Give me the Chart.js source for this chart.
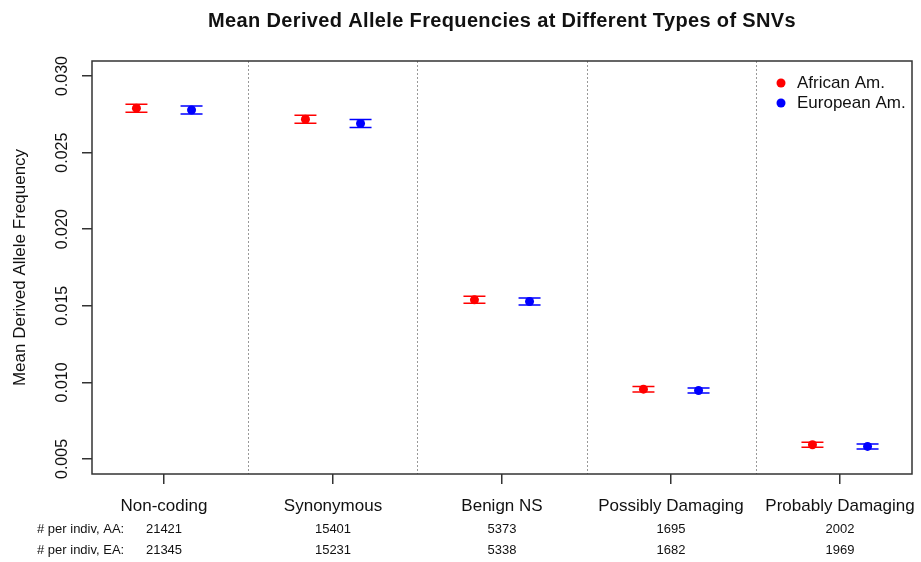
<!DOCTYPE html>
<html>
<head>
<meta charset="utf-8">
<script src="https://cdn.jsdelivr.net/npm/chart.js@4/dist/chart.umd.min.js"></script>
<style>
  html, body { margin: 0; padding: 0; background: #fff; }
  #wrap { width: 921px; height: 562px; }
</style>
</head>
<body>
<div id="wrap"><canvas id="myChart" width="921" height="562"></canvas></div>
<script>
// data
var categories = ["Non-coding", "Synonymous", "Benign NS", "Possibly Damaging", "Probably Damaging"];
var aaMean = [0.02790, 0.02718, 0.01539, 0.00956, 0.00593];
var eaMean = [0.02778, 0.02690, 0.01528, 0.00947, 0.00582];
var aaErr = [0.00026, 0.00026, 0.00023, 0.00018, 0.00016];
var eaErr = [0.00026, 0.00026, 0.00023, 0.00017, 0.00016];
var aaCount = [21421, 15401, 5373, 1695, 2002];
var eaCount = [21345, 15231, 5338, 1682, 1969];
var yTicks = [0.005, 0.010, 0.015, 0.020, 0.025, 0.030];
var seriesNames = ["African Am.", "European Am."];
var seriesColors = ["#ff0000", "#0000ff"];

var FONT = "'Liberation Sans', Arial, Helvetica, sans-serif";
var SHIFT = 0.163; // offset of each group from the category centre

function pts(vals, dx) {
  return vals.map(function (v, i) { return { x: i + dx, y: v }; });
}

var errs = [aaErr, eaErr];

var extras = {
  id: "extras",
  beforeDatasetsDraw: function (chart) {
    var ctx = chart.ctx, xs = chart.scales.x, ys = chart.scales.y, a = chart.chartArea;
    ctx.save();
    // dotted separators
    ctx.strokeStyle = "#999";
    ctx.lineWidth = 1;
    ctx.setLineDash([2, 2]);
    for (var i = 0; i < categories.length - 1; i++) {
      var px = Math.round(xs.getPixelForValue(i + 0.5)) + 0.5;
      ctx.beginPath();
      ctx.moveTo(px, a.top);
      ctx.lineTo(px, a.bottom);
      ctx.stroke();
    }
    ctx.setLineDash([]);
    // error bars
    chart.data.datasets.forEach(function (ds, d) {
      ctx.strokeStyle = ds.backgroundColor;
      ctx.lineWidth = 1.5;
      ds.data.forEach(function (p, i) {
        var x = xs.getPixelForValue(p.x);
        var y1 = ys.getPixelForValue(p.y + errs[d][i]);
        var y2 = ys.getPixelForValue(p.y - errs[d][i]);
        ctx.beginPath();
        ctx.moveTo(x, y1); ctx.lineTo(x, y2);
        ctx.moveTo(x - 11, y1); ctx.lineTo(x + 11, y1);
        ctx.moveTo(x - 11, y2); ctx.lineTo(x + 11, y2);
        ctx.stroke();
      });
    });
    ctx.restore();
  },
  afterDraw: function (chart) {
    var ctx = chart.ctx, xs = chart.scales.x, ys = chart.scales.y, a = chart.chartArea;
    ctx.save();
    // box
    ctx.strokeStyle = "#333";
    ctx.lineWidth = 1.5;
    ctx.strokeRect(a.left, a.top, a.right - a.left, a.bottom - a.top);
    // title
    ctx.fillStyle = "#111";
    ctx.font = "bold 20px " + FONT;
    ctx.letterSpacing = "0.35px";
    ctx.textAlign = "center";
    ctx.textBaseline = "alphabetic";
    ctx.fillText("Mean Derived Allele Frequencies at Different Types of SNVs", (a.left + a.right) / 2, 27);
    ctx.letterSpacing = "0px";
    ctx.textBaseline = "middle";
    // rotated y tick labels
    ctx.font = "16px " + FONT;
    ys.ticks.forEach(function (t) {
      var py = ys.getPixelForValue(t.value);
      ctx.save();
      ctx.translate(63, py);
      ctx.rotate(-Math.PI / 2);
      ctx.fillText(t.value.toFixed(3), 0, 0);
      ctx.restore();
    });
    // counts under categories
    ctx.font = "13px " + FONT;
    ctx.textAlign = "left";
    ctx.fillText("# per indiv, AA:", 37, 529);
    ctx.fillText("# per indiv, EA:", 37, 550);
    ctx.textAlign = "center";
    categories.forEach(function (c, i) {
      var px = xs.getPixelForValue(i);
      ctx.fillText(String(aaCount[i]), px, 529);
      ctx.fillText(String(eaCount[i]), px, 550);
    });
    // legend
    ctx.font = "17px " + FONT;
    ctx.textAlign = "left";
    seriesNames.forEach(function (n, k) {
      var ly = 83 + k * 20;
      ctx.fillStyle = seriesColors[k];
      ctx.beginPath();
      ctx.arc(781, ly, 4.5, 0, Math.PI * 2);
      ctx.fill();
      ctx.fillStyle = "#111";
      ctx.fillText(n, 797, ly);
    });
    ctx.restore();
  }
};

new Chart("myChart", {
  type: "scatter",
  data: {
    datasets: [{
      label: seriesNames[0],
      data: pts(aaMean, -SHIFT),
      backgroundColor: seriesColors[0],
      borderWidth: 0,
      pointRadius: 4.5
    }, {
      label: seriesNames[1],
      data: pts(eaMean, SHIFT),
      backgroundColor: seriesColors[1],
      borderWidth: 0,
      pointRadius: 4.5
    }]
  },
  options: {
    responsive: false,
    animation: false,
    layout: { padding: { left: 0, right: 9, top: 61, bottom: 0 } },
    plugins: {
      legend: { display: false },
      title: { display: false },
      tooltip: { enabled: false }
    },
    scales: {
      x: {
        type: "linear",
        min: -0.426,
        max: 4.426,
        afterBuildTicks: function (s) {
          s.ticks = categories.map(function (c, i) { return { value: i }; });
        },
        afterFit: function (s) {
          s.height = 88;
          s.paddingLeft = 0;
          s.paddingRight = 0;
        },
        ticks: {
          autoSkip: false,
          maxRotation: 0,
          minRotation: 0,
          padding: 12,
          color: "#111",
          font: { family: FONT, size: 17 },
          callback: function (v) { return categories[v]; }
        },
        grid: {
          drawOnChartArea: false,
          color: "transparent",
          tickColor: "#333",
          tickLength: 10,
          lineWidth: 1.5
        },
        border: { display: false }
      },
      y: {
        min: 0.00402,
        max: 0.03098,
        afterBuildTicks: function (s) {
          s.ticks = yTicks.map(function (v) { return { value: v }; });
        },
        afterFit: function (s) {
          s.width = 92;
          s.paddingTop = 0;
          s.paddingBottom = 0;
        },
        ticks: { display: false },
        grid: {
          drawOnChartArea: false,
          color: "transparent",
          tickColor: "#333",
          tickLength: 10,
          lineWidth: 1.5
        },
        border: { display: false },
        title: {
          display: true,
          text: "Mean Derived Allele Frequency",
          color: "#111",
          font: { family: FONT, size: 17 },
          padding: { top: 10, bottom: 0 }
        }
      }
    }
  },
  plugins: [extras]
});
</script>
</body>
</html>
